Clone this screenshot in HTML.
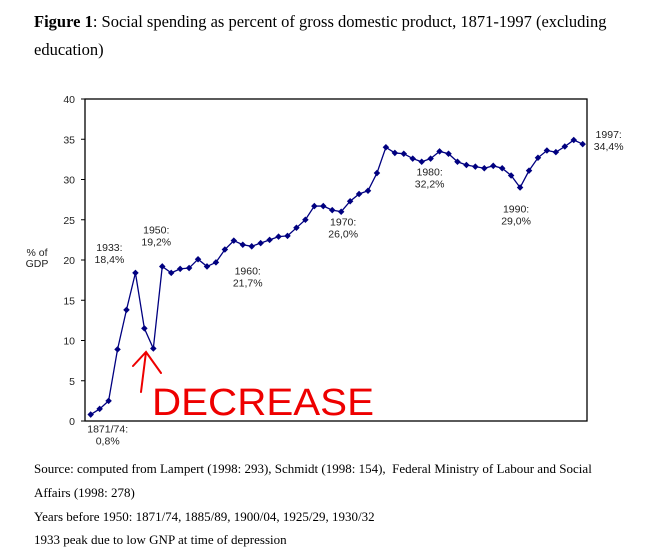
<!DOCTYPE html>
<html><head><meta charset="utf-8"><style>
body{margin:0;background:#fff;width:657px;height:559px;overflow:hidden;position:relative}
.serif{font-family:"Liberation Serif",serif;color:#000;position:absolute;white-space:nowrap}
</style></head><body>
<div class="serif" style="left:34px;top:12px;font-size:16.5px"><b>Figure 1</b>: Social spending as percent of gross domestic product, 1871-1997 (excluding</div>
<div class="serif" style="left:34px;top:40px;font-size:16.5px">education)</div>
<div class="serif" style="left:34px;top:461px;font-size:13px">Source: computed from Lampert (1998: 293), Schmidt (1998: 154),&nbsp; Federal Ministry of Labour and Social</div>
<div class="serif" style="left:34px;top:485px;font-size:13px">Affairs (1998: 278)</div>
<div class="serif" style="left:34px;top:509px;font-size:13px">Years before 1950: 1871/74, 1885/89, 1900/04, 1925/29, 1930/32</div>
<div class="serif" style="left:34px;top:532px;font-size:13px">1933 peak due to low GNP at time of depression</div>
<svg id="chart" width="657" height="559" style="position:absolute;left:0;top:0" font-family="Liberation Sans, sans-serif"></svg>
<script>
const values=[0.8,1.5,2.5,8.9,13.8,18.4,11.5,9.0,19.2,18.4,18.9,19.0,20.1,19.2,19.7,21.3,22.4,21.9,21.7,22.1,22.5,22.9,23.0,24.0,25.0,26.7,26.7,26.2,26.0,27.3,28.2,28.6,30.8,34.0,33.3,33.2,32.6,32.2,32.6,33.5,33.2,32.2,31.8,31.6,31.4,31.7,31.4,30.5,29.0,31.1,32.7,33.6,33.4,34.1,34.9,34.4];
const yTicks=[0,5,10,15,20,25,30,35,40];
const annotations=[
 {i:0,l1:"1871/74:",l2:"0,8%",dx:17,dy:18},
 {i:5,l1:"1933:",l2:"18,4%",dx:-26,dy:-22},
 {i:8,l1:"1950:",l2:"19,2%",dx:-6,dy:-33},
 {i:18,l1:"1960:",l2:"21,7%",dx:-4,dy:28},
 {i:28,l1:"1970:",l2:"26,0%",dx:2,dy:14},
 {i:38,l1:"1980:",l2:"32,2%",dx:-1,dy:17},
 {i:48,l1:"1990:",l2:"29,0%",dx:-4,dy:25},
 {i:55,l1:"1997:",l2:"34,4%",dx:26,dy:-6}
];
const svg=document.getElementById('chart');const NS='http://www.w3.org/2000/svg';
const L=85,R=587,T=99,B=421,x0=90.7,step=(582.7-90.7)/(values.length-1);
const X=i=>x0+i*step, Y=v=>B-(v/40)*(B-T);
function mk(t,a){const e=document.createElementNS(NS,t);for(const k in a)e.setAttribute(k,a[k]);svg.appendChild(e);return e;}
let e=mk('rect',{x:L,y:T,width:R-L,height:B-T,fill:'none',stroke:'#000','stroke-width':1.3});


yTicks.forEach(v=>{
 let t=mk('line',{x1:L-4,x2:L,y1:Y(v),y2:Y(v),stroke:'#000'});
 
 
 let l=mk('text',{x:L-10,y:Y(v)+4,'text-anchor':'end','font-size':10.5,fill:'#222'});l.textContent=v;
 
 
});
let yl=mk('text',{x:37,y:256,'text-anchor':'middle','font-size':10.5,fill:'#222'});yl.textContent='% of';


let yl2=mk('text',{x:37,y:267,'text-anchor':'middle','font-size':10.5,fill:'#222'});yl2.textContent='GDP';


let p=mk('polyline',{points:values.map((v,i)=>X(i)+','+Y(v)).join(' '),fill:'none',stroke:'#000080','stroke-width':1.3});


values.forEach((v,i)=>{
 let d=mk('rect',{x:X(i)-2.3,y:Y(v)-2.3,width:4.6,height:4.6,fill:'#000080',transform:`rotate(45 ${X(i)} ${Y(v)})`});
 
 
});
annotations.forEach(a=>{
 const x=X(a.i)+a.dx,y=Y(values[a.i])+a.dy;
 [a.l1,a.l2].forEach((s,k)=>{
  let t=mk('text',{x:x,y:y+k*12,'text-anchor':'middle','font-size':10.5,fill:'#222'});t.textContent=s;
  
  
 });
});
let ar=mk('path',{d:'M141 392 L146 352 M133 366 L146 352 L161 373',stroke:'#e00',fill:'none','stroke-width':2,'stroke-linecap':'round'});


let dt=mk('text',{x:152,y:415,'font-size':38,fill:'#e00',textLength:222,lengthAdjust:'spacingAndGlyphs','font-family':'Liberation Sans Narrow, Liberation Sans, sans-serif'});
dt.textContent='DECREASE';


</script>
</body></html>
